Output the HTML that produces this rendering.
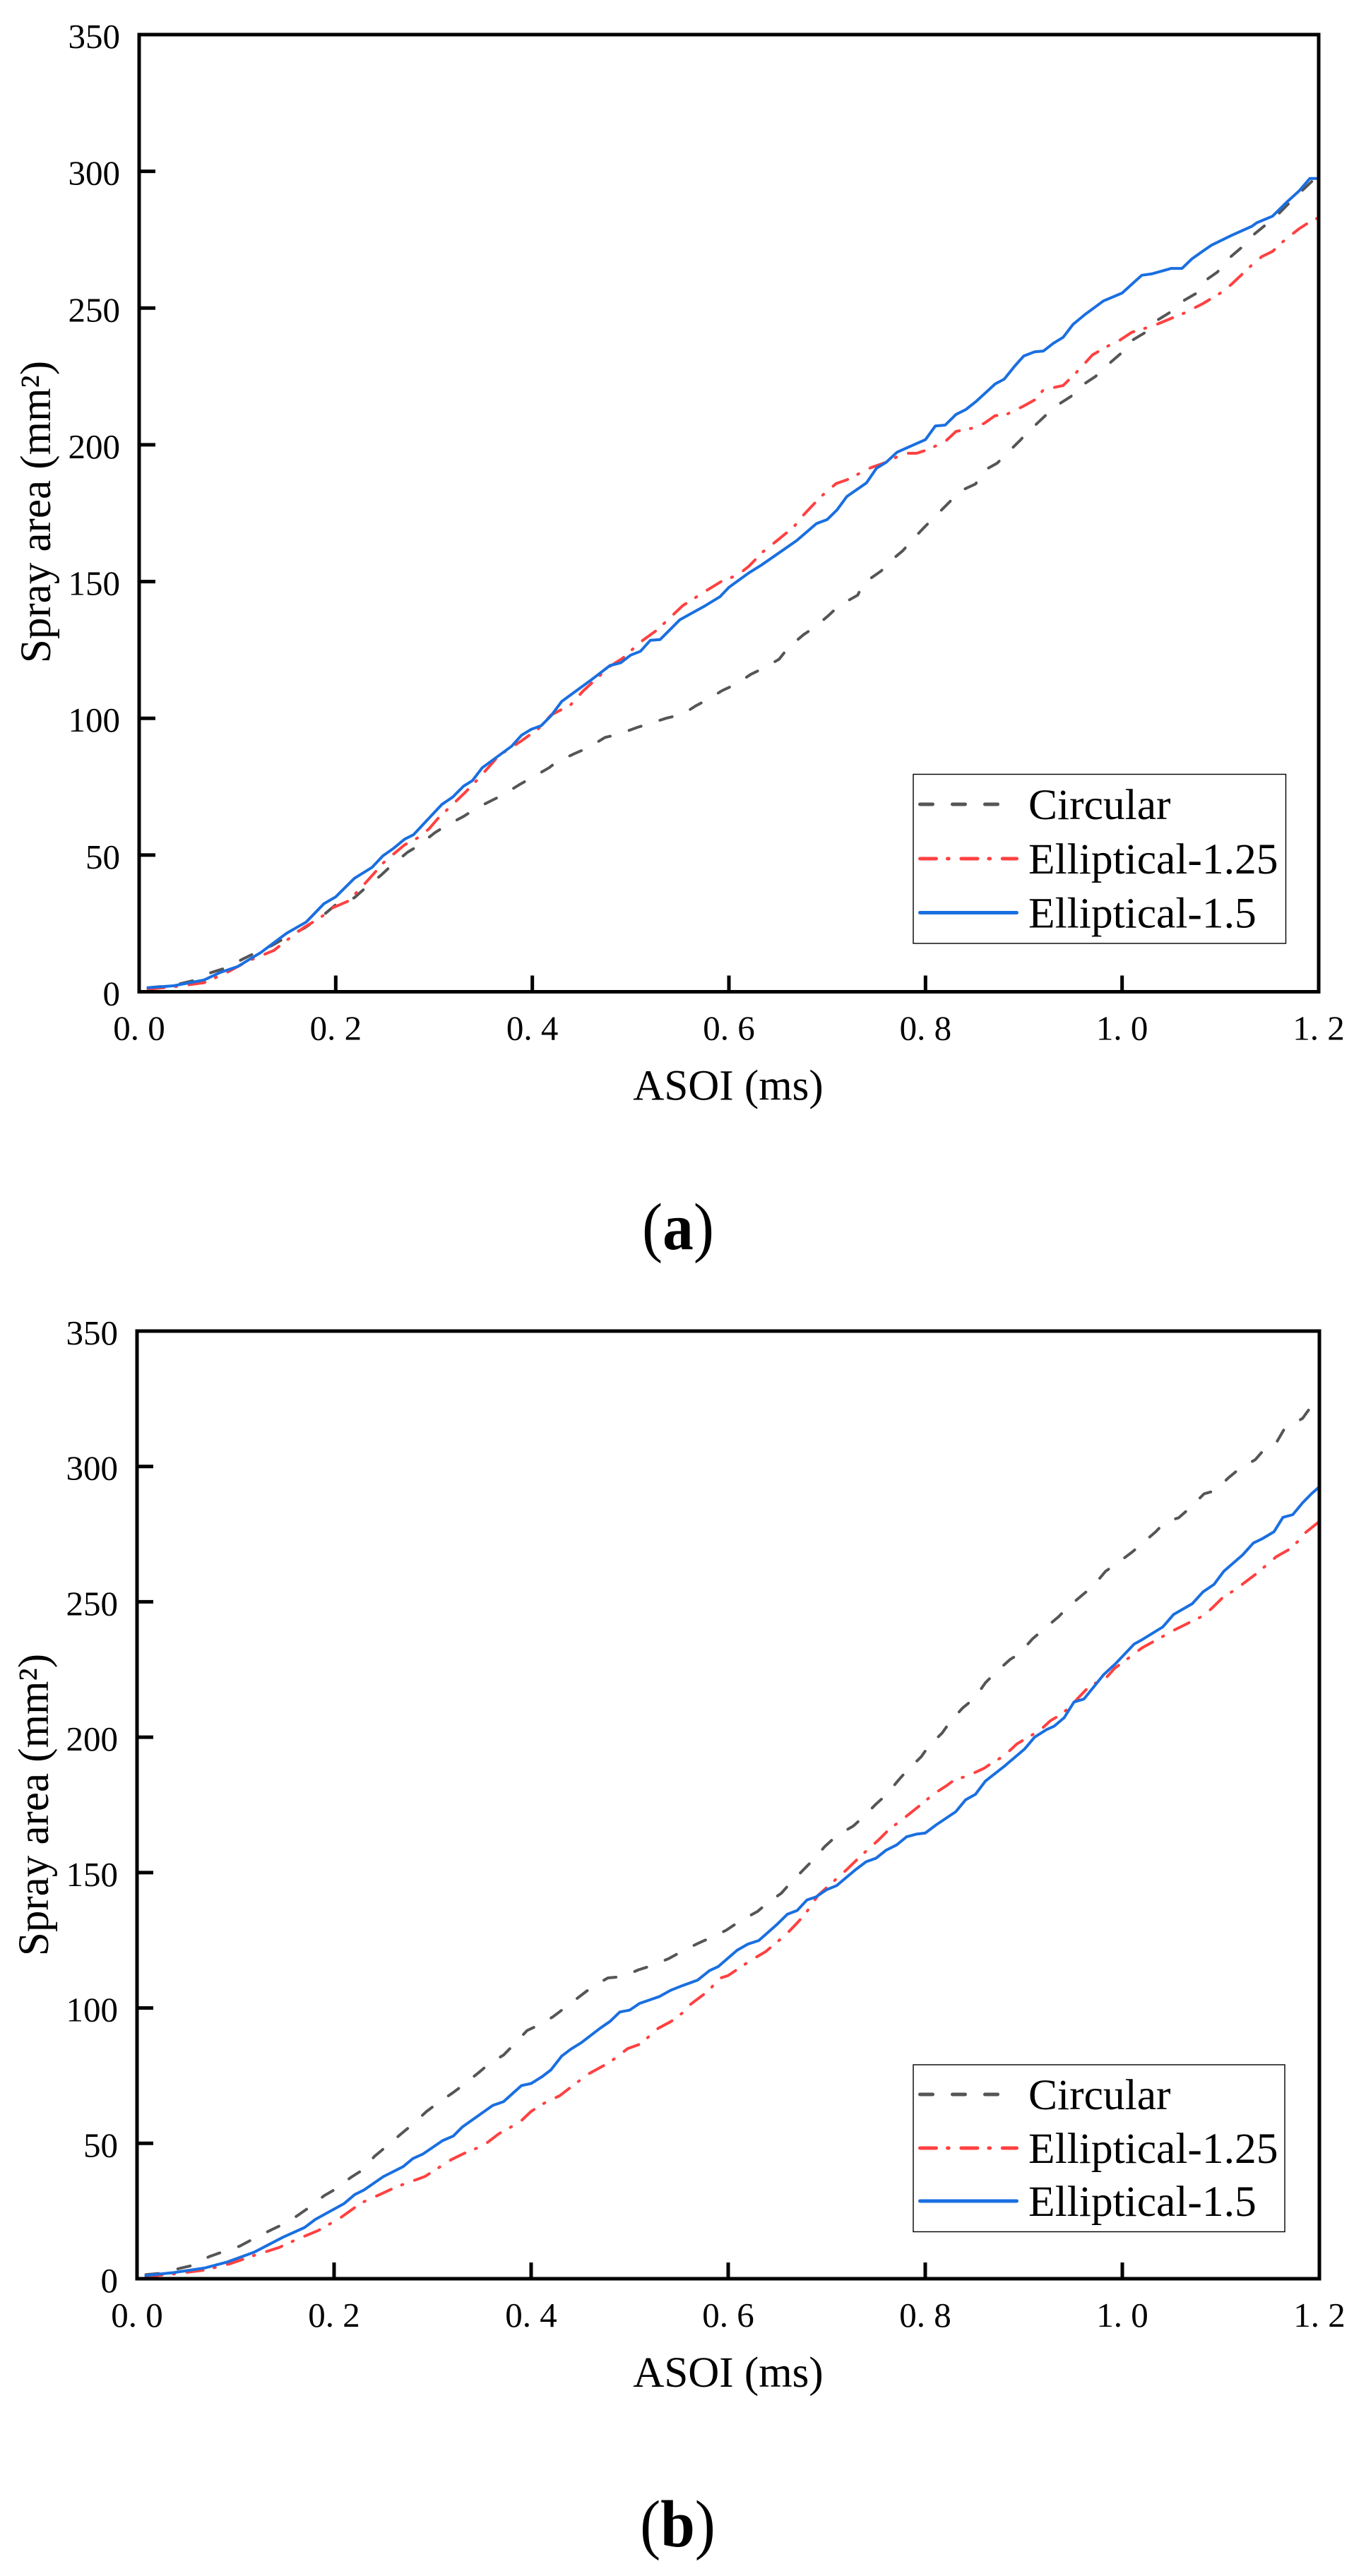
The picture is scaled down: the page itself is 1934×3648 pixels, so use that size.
<!DOCTYPE html>
<html lang="en">
<head>
<meta charset="utf-8">
<title>Spray area versus ASOI</title>
<style>
html,body{margin:0;padding:0;background:#fff;}
svg{display:block;font-family:"Liberation Serif",serif;}
</style>
</head>
<body>
<svg id="figure" xmlns="http://www.w3.org/2000/svg" width="1934" height="3648" viewBox="0 0 1934 3648">
<rect x="0" y="0" width="1934" height="3648" fill="#ffffff"/>
</svg>
<script>
/* Shared axis content */
const xTickValues = [0, 0.2, 0.4, 0.6, 0.8, 1.0, 1.2];
const xTickLabels = ["0. 0", "0. 2", "0. 4", "0. 6", "0. 8", "1. 0", "1. 2"];
const yTickValues = [0, 50, 100, 150, 200, 250, 300, 350];
const yTickLabels = ["0", "50", "100", "150", "200", "250", "300", "350"];
const seriesNames = ["Circular", "Elliptical-1.25", "Elliptical-1.5"];

/* Panel (a) */
const circularAsoiA = [.009,.024,.04,.058,.073,.089,.104,.117,.135,.148,.168,.184,.2,.219,.233,.246,.257,.273,.284,.301,.312,.33,.343,.359,.37,.388,.399,.417,.425,.443,.457,.474,.487,.507,.518,.536,.553,.566,.578,.593,.608,.622,.636,.651,.66,.676,.688,.701,.712,.731,.737,.755,.761,.777,.787,.8,.811,.825,.831,.836,.851,.86,.873,.883,.897,.903,.907,.92,.931,.948,.956,.973,.983,.999,1.007,1.024,1.035,1.05,1.062,1.075,1.084,1.097,1.108,1.121,1.132,1.147,1.158,1.173,1.2];
const circularAreaA = [1.5,2,2.8,4.3,7,8.8,11.7,14,16.9,19.6,23.3,27,31.8,34.4,38.9,42.6,46.3,51,53.4,58.2,60.7,64.1,67.1,70,72,76,78.2,81.9,84.1,87.1,89.3,93,94.1,96.7,97.9,100,101.5,104.5,106.8,110.1,112.6,116,118.5,121.6,125.7,130.6,133.5,137.5,141.2,145,149.4,153.9,156.5,161.3,165.4,170.3,174.2,179.3,182.1,183.2,185.7,190.7,193.3,196.9,201.9,204.5,205.6,210,213.8,217.7,221,225,228.5,233.5,237.5,241.2,245.4,248.7,252.6,255.3,259.9,263.2,268,272,276.3,280.7,284,289.5,298.7];
const ellipse125AsoiA = [.009,.035,.066,.089,.11,.137,.153,.168,.184,.197,.213,.226,.239,.248,.259,.27,.284,.295,.304,.319,.332,.346,.366,.388,.408,.419,.439,.452,.479,.492,.51,.527,.553,.578,.593,.609,.62,.635,.649,.666,.675,.686,.695,.709,.72,.744,.76,.771,.782,.791,.802,.82,.831,.849,.86,.871,.88,.9,.911,.92,.94,.953,.97,.986,.997,1.01,1.019,1.037,1.053,1.064,1.082,1.102,1.111,1.131,1.142,1.153,1.164,1.18,1.193,1.2];
const ellipse125AreaA = [1,1.8,3.3,7,11.1,15.1,19.6,23.6,27,30.7,33.2,38.1,43.3,47,50.4,53.7,56.4,59.6,63.4,68.5,73,78.2,86.4,91.5,96.7,101.2,104.9,110.1,119,122,127.9,132.3,141.2,146.9,150.2,152.4,155.5,161,165,170,174,178.2,181.5,185.8,187.2,191.6,193.6,195.6,196.9,196.9,198.2,201.2,204.9,206.2,207.9,210.7,210.7,214.2,216.4,220.1,221.7,226.3,232.9,236.2,238.1,241.2,242.1,244.3,246.7,248.3,251.6,255.9,258.6,265.4,268.8,270.7,274.4,279,282,283];
const ellipse150AsoiA = [.009,.035,.066,.082,.1,.124,.15,.17,.188,.2,.219,.237,.248,.259,.27,.279,.308,.319,.33,.339,.349,.379,.389,.399,.409,.419,.43,.459,.479,.49,.5,.51,.52,.53,.55,.576,.591,.6,.62,.633,.649,.669,.689,.7,.71,.72,.74,.75,.76,.771,.8,.81,.82,.831,.841,.851,.871,.88,.891,.9,.911,.92,.93,.94,.95,.962,.981,1.0,1.02,1.03,1.05,1.061,1.071,1.082,1.091,1.112,1.132,1.137,1.153,1.168,1.18,1.191,1.2];
const ellipse150AreaA = [1.5,2.2,4.3,7,9.2,14.4,21.4,25.5,32.2,34.7,41.5,45.5,49.7,52.5,55.8,57.4,68.5,71.2,75.2,77.2,81.9,89.8,93.8,96,97.3,100.9,106.2,113.8,119.3,120.3,123.1,124.5,128.5,128.8,136,141.2,144.5,147.9,153.1,156,160,165,171.2,172.7,176.2,181.1,186.1,191.4,193.6,197.3,201.9,206.9,207.2,211.1,212.9,215.7,222.3,224,228.9,232.5,234,234.3,237.1,239.3,244,247.6,252.6,255.5,262,262.5,264.5,264.5,268,270.8,273,276.7,279.9,281.2,283.6,288.9,292.8,297.4,297.4];

/* Panel (b) */
const circularAsoiB = [.009,.024,.042,.055,.073,.086,.104,.117,.135,.147,.162,.175,.19,.201,.217,.229,.241,.252,.268,.279,.294,.303,.321,.332,.347,.358,.372,.383,.396,.408,.422,.434,.449,.462,.478,.493,.509,.524,.54,.554,.569,.583,.598,.612,.63,.638,.654,.662,.676,.687,.698,.71,.727,.736,.75,.761,.772,.781,.796,.803,.817,.826,.838,.85,.861,.87,.886,.895,.909,.92,.935,.946,.96,.971,.983,.994,1.01,1.02,1.034,1.044,1.057,1.069,1.083,1.094,1.108,1.119,1.135,1.144,1.157,1.164,1.183,1.191,1.2];
const circularAreaB = [1.5,2,3.7,4.8,8.1,9.8,12,14.5,17.8,19.9,23.1,26.4,30.7,33,37.4,40.2,45.2,48.5,53.5,56.8,61.8,64.3,68.8,71.8,76.2,79.6,82.6,86.7,91.7,93.7,96.7,100,104.2,107.8,111.1,111.6,114.1,115.8,118.3,121.1,123.8,126.1,128.7,132.1,135.7,138.2,142.4,145.7,150.9,155,159.6,163.6,167.2,170.2,175.3,178.9,183.8,187.5,192.8,196.5,201.5,206.1,210.8,214.4,220.1,223.4,228.7,230.7,236.4,239.8,244.4,248.4,252.7,256,261.3,264,268.4,271.5,275.9,279.7,281,284.8,289.9,291,295.9,299.2,302.5,306.3,309.2,313.6,317.8,321.8,327];
const ellipse125AsoiB = [.009,.038,.069,.095,.119,.144,.162,.184,.206,.228,.246,.263,.292,.319,.332,.352,.367,.389,.4,.412,.429,.438,.458,.48,.498,.511,.529,.542,.554,.558,.581,.59,.6,.622,.638,.658,.669,.678,.691,.72,.733,.753,.764,.775,.797,.808,.822,.831,.842,.86,.869,.88,.893,.904,.916,.927,.938,.947,.956,.967,.983,.992,1.007,1.02,1.032,1.054,1.07,1.083,1.092,1.103,1.114,1.136,1.156,1.17,1.179,1.185,1.2];
const ellipse125AreaB = [.8,1.8,3.2,5.6,8.6,11.5,14.5,17.8,22.4,28.1,31,33.9,37.7,44,46.3,49.3,53.5,58,61.8,64.6,67.6,70.1,75.6,80,85,86.7,92.5,95,98.3,100.3,106.6,110.8,112,117.4,120.8,126.9,131,134.6,141.5,151,155.6,162.2,166.2,169.1,175.5,178.9,182.2,184.6,185.5,188.6,190.8,193.1,197.5,199.9,202.4,206.1,208.5,211.2,214.8,219,221.7,225.4,229.4,233,235.4,239.8,242.7,245,248,252,254.3,260.4,266.6,269.5,272.6,275.3,279.7];
const ellipse150AsoiB = [.009,.038,.069,.091,.119,.148,.17,.181,.21,.221,.23,.25,.27,.28,.29,.31,.321,.33,.361,.372,.39,.4,.411,.42,.431,.44,.451,.47,.48,.49,.5,.51,.53,.542,.554,.569,.581,.59,.609,.62,.631,.649,.66,.67,.68,.689,.7,.71,.729,.74,.75,.76,.771,.781,.791,.8,.811,.831,.841,.851,.861,.881,.901,.911,.923,.931,.941,.951,.961,.981,.993,1.012,1.02,1.041,1.052,1.071,1.082,1.093,1.103,1.122,1.133,1.142,1.154,1.163,1.173,1.183,1.192,1.2];
const ellipse150AreaB = [1.2,2.3,4,6.1,9.8,15.3,18.9,21.9,27.7,31.1,32.7,37.7,41.4,44.4,46,51,52.7,56,64,65.4,71.3,72.1,74.6,77.1,82.2,84.7,87.2,92.5,95,98.5,99.2,101.7,104.2,106.6,108.3,110.3,113.8,115.3,121.3,123.6,124.9,130.7,134.6,136,139.9,141,143.7,145.2,151,154,155.3,158.2,160.2,163.2,164.2,164.6,167.6,172.5,176.9,178.9,183.8,189.5,195.7,200,202.8,204.1,207.2,213,214.1,223.1,227.1,234.4,236,240.7,245.3,249.3,253.7,256.4,261.3,267.3,271.7,273.3,275.9,281.2,282.2,286.6,289.9,292.5];

const svgNS = "http://www.w3.org/2000/svg";
const root = document.getElementById("figure");

function make(parent, tag, attrs, text) {
  const el = document.createElementNS(svgNS, tag);
  for (const k in attrs) el.setAttribute(k, attrs[k]);
  if (text !== undefined) el.textContent = text;
  parent.appendChild(el);
  return el;
}

function slug(s) {
  return s.toLowerCase().replace(/[^a-z0-9]+/g, "-");
}

const styles = [
  { color: "#555555", dash: "18 28" },
  { color: "#ff4040", dash: "23 16 1.7 17.7" },
  { color: "#1a6fe0", dash: "none" }
];

function drawPanel(p) {
  const panel = make(root, "g", {});
  
  

  const xScale = v => p.left + (v / 1.2) * (p.right - p.left);
  const yScale = v => p.bottom - (v / 350) * (p.bottom - p.top);

  p.series.forEach((s, i) => {
    const d = s.x.map((v, j) => xScale(v).toFixed(1) + "," + yScale(s.y[j]).toFixed(1)).join(" ");
    const line = make(panel, "polyline", {
      points: d, fill: "none", stroke: styles[i].color, "stroke-width": 4,
      "stroke-linejoin": "round", "stroke-linecap": "round", "stroke-dasharray": styles[i].dash
    });
    
    
  });

  const frame = make(panel, "rect", {
    x: p.left, y: p.top, width: p.right - p.left, height: p.bottom - p.top,
    fill: "none", stroke: "#000", "stroke-width": 5
  });
  
  

  xTickValues.forEach((v, i) => {
    const x = xScale(v);
    if (v > 0 && v < 1.2) {
      const t = make(panel, "line", { x1: x, x2: x, y1: p.bottom, y2: p.bottom - 23, stroke: "#000", "stroke-width": 5 });
      
      
    }
    const l = make(panel, "text", { x: x, y: p.bottom + 68, "text-anchor": "middle", "font-size": 49, "xml:space": "preserve" }, xTickLabels[i]);
    
    
  });

  yTickValues.forEach((v, i) => {
    const y = yScale(v);
    if (v > 0 && v < 350) {
      const t = make(panel, "line", { x1: p.left, x2: p.left + 23, y1: y, y2: y, stroke: "#000", "stroke-width": 5 });
      
      
    }
    const l = make(panel, "text", { x: p.left - 27, y: y + 19, "text-anchor": "end", "font-size": 49 }, yTickLabels[i]);
    
    
  });

  const xt = make(panel, "text", { x: 1031, y: p.bottom + 153, "text-anchor": "middle", "font-size": 61 }, "ASOI (ms)");
  
  

  const yt = make(panel, "text", {
    x: p.yTitleX, y: p.yTitleY, "text-anchor": "middle", "font-size": 61,
    transform: "rotate(-90 " + p.yTitleX + " " + p.yTitleY + ")"
  }, "Spray area (mm\u00B2)");
  
  

  const legend = make(panel, "g", {});
  
  
  const box = make(legend, "rect", {
    x: p.legend.x, y: p.legend.y, width: p.legend.w, height: p.legend.h,
    fill: "#fff", stroke: "#000", "stroke-width": 1.4
  });
  
  
  seriesNames.forEach((name, i) => {
    const ry = p.legend.rows[i];
    const key = make(legend, "line", {
      x1: 1302.5, x2: 1439.5, y1: ry, y2: ry, stroke: styles[i].color, "stroke-width": 5,
      "stroke-linecap": "round", "stroke-dasharray": styles[i].dash
    });
    
    
    const lab = make(legend, "text", { x: 1456, y: ry + 21, "font-size": 61.5 }, name);
    
    
  });

  const cap = make(panel, "text", {
    x: 0, y: 0, "text-anchor": "middle", "font-size": 94,
    transform: "translate(" + p.capX + " " + p.capY + ") scale(0.93 1)"
  });
  
  
  make(cap, "tspan", {}, "(");
  make(cap, "tspan", { "font-weight": "bold" }, p.id);
  make(cap, "tspan", {}, ")");
}

drawPanel({
  id: "a", left: 197, right: 1867, top: 49, bottom: 1404.5,
  yTitleX: 71, yTitleY: 725, capX: 960, capY: 1769,
  legend: { x: 1293, y: 1096.5, w: 527.5, h: 239.5, rows: [1139, 1216, 1292.5] },
  series: [
    { x: circularAsoiA, y: circularAreaA },
    { x: ellipse125AsoiA, y: ellipse125AreaA },
    { x: ellipse150AsoiA, y: ellipse150AreaA }
  ]
});
drawPanel({
  id: "b", left: 194, right: 1868, top: 1885, bottom: 3227,
  yTitleX: 68, yTitleY: 2556, capX: 959.5, capY: 3606,
  legend: { x: 1293, y: 2924, w: 526, h: 236.5, rows: [2966, 3042, 3117] },
  series: [
    { x: circularAsoiB, y: circularAreaB },
    { x: ellipse125AsoiB, y: ellipse125AreaB },
    { x: ellipse150AsoiB, y: ellipse150AreaB }
  ]
});
</script>
</body>
</html>
